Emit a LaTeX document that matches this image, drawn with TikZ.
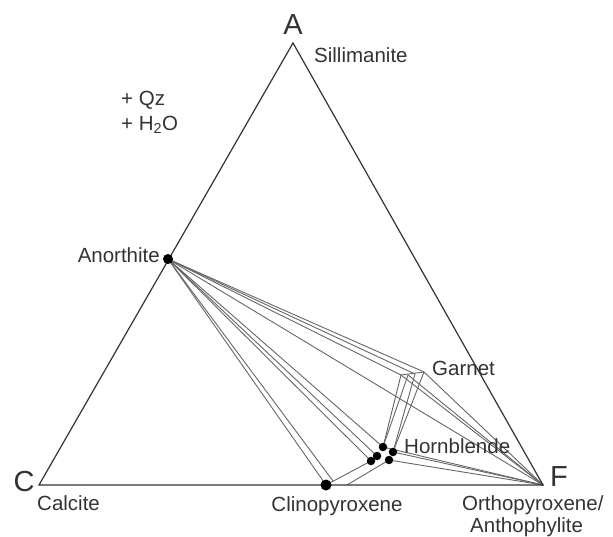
\documentclass[tikz,border=0pt]{standalone}
\usepackage{fontspec}
\setmainfont{Liberation Sans}
\begin{document}
\begin{tikzpicture}[x=1pt,y=-1pt,
  tri/.style={draw=black!80,line width=1.2pt},
  tie/.style={draw=black!60,line width=0.9pt},
  dot/.style={circle,fill=black,inner sep=0pt,minimum size=10pt},
  lbl/.style={inner sep=0pt,font=\fontsize{20.5}{22}\selectfont,text=black!80},
  big/.style={inner sep=0pt,font=\fontsize{29}{31}\selectfont,text=black!80}]
\useasboundingbox (0,0) rectangle (613,537);
% corners
\coordinate (A) at (293,43);
\coordinate (C) at (39,485);
\coordinate (F) at (543,485);
% phases
\coordinate (An) at (168,259);
\coordinate (G1) at (401,375);
\coordinate (G2) at (408,375);
\coordinate (G3) at (415,374);
\coordinate (G4) at (424,372);
\coordinate (H1) at (383,447);
\coordinate (H2) at (393,452);
\coordinate (H3) at (377,456);
\coordinate (H4) at (371,461);
\coordinate (H5) at (389,460);
\coordinate (Cpx) at (326,485);
\coordinate (Cpx2) at (333,481);
\coordinate (Cpx3) at (347,485);
% tie lines
\draw[tie] (An) -- (G1);
\draw[tie] (An) -- (G3);
\draw[tie] (An) -- (G4);
\draw[tie] (An) -- (F);
\draw[tie] (An) -- (H1);
\draw[tie] (An) -- (H3);
\draw[tie] (An) -- (H4);
\draw[tie] (An) -- (Cpx);
\draw[tie] (An) -- (Cpx2);
\draw[tie] (G1) -- (G4);
\draw[tie] (G1) -- (H1);
\draw[tie] (G2) -- (H1);
\draw[tie] (G3) -- (H2);
\draw[tie] (G4) -- (H2);
\draw[tie] (G4) -- (F);
\draw[tie] (G2) -- (F);
\draw[tie] (G1) -- (F);
\draw[tie] (H1) -- (F);
\draw[tie] (H2) -- (F);
\draw[tie] (H5) -- (F);
\draw[tie] (Cpx) -- (H4);
\draw[tie] (Cpx3) -- (H5);
% triangle
\draw[tri] (C) -- (A) -- (F) -- cycle;
% dots
\node[dot] (dAn) at (An) {};
\node[dot,minimum size=11pt] (dCpx) at (Cpx) {};
\node[dot,minimum size=8.5pt] (dH1) at (H1) {};
\node[dot,minimum size=8.5pt] (dH2) at (H2) {};
\node[dot,minimum size=8.5pt] (dH3) at (H3) {};
\node[dot,minimum size=8.5pt] (dH4) at (H4) {};
\node[dot,minimum size=8.5pt] (dH5) at (H5) {};
% labels
\node[big] (lA) at (293,25) {A};
\node[big] (lC) at (24,482) {C};
\node[big] (lF) at (559,477) {F};
\node[lbl,anchor=west] (lSil) at (314,55) {Sillimanite};
\node[lbl,anchor=west] (lQz) at (121,100) {+ Qz};
\node[lbl,anchor=west] (lH2O) at (121,125) {+ H\textsubscript{2}O};
\node[lbl,anchor=east] (lAn) at (160,255) {Anorthite};
\node[lbl,anchor=west] (lGt) at (432,368) {Garnet};
\node[lbl,anchor=west] (lHb) at (404,446) {Hornblende};
\node[lbl,anchor=west] (lCc) at (37,503) {Calcite};
\node[lbl] (lCpx) at (337,506) {Clinopyroxene};
\node[lbl,anchor=west] (lOpx) at (462,505) {Orthopyroxene/};
\node[lbl,anchor=west] (lAth) at (470,527) {Anthophylite};
\end{tikzpicture}
\end{document}
